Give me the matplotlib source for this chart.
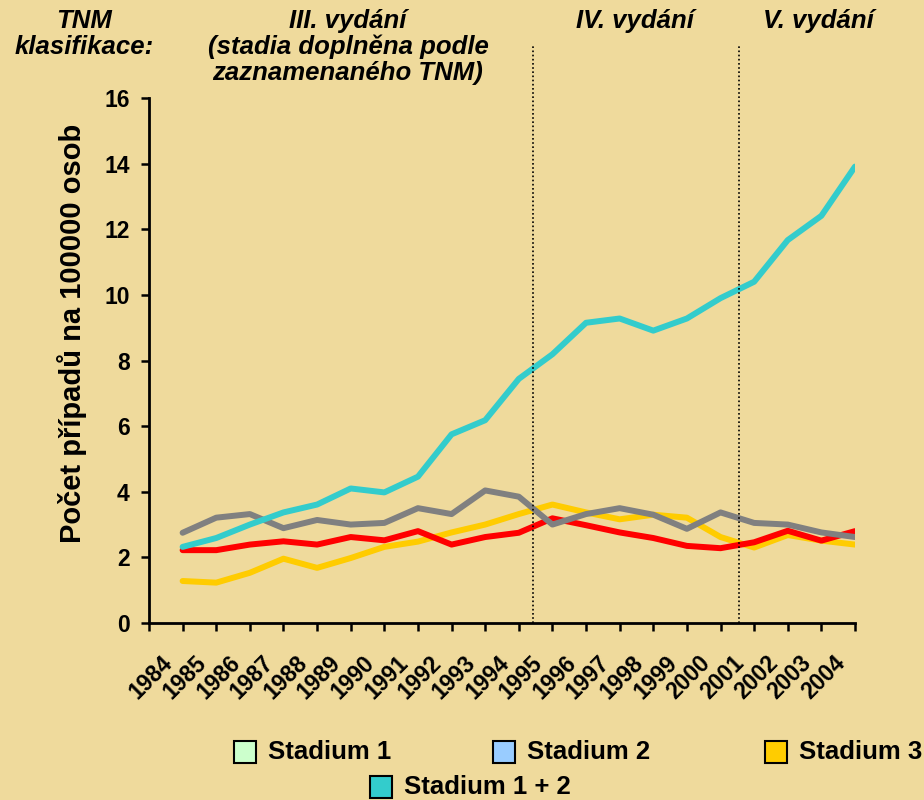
import numpy as np
import matplotlib.pyplot as plt
from matplotlib.patches import Rectangle

# DATA
years = list(range(1984, 2005))
stadium_12 = [2.32, 2.59, 3.00, 3.37, 3.61, 4.10, 3.98, 4.46, 5.75, 6.18, 7.44,
              8.19, 9.15, 9.28, 8.91, 9.28, 9.90, 10.40, 11.67, 12.41, 13.91]
stadium_3 = [1.28, 1.23, 1.53, 1.96, 1.68, 1.98, 2.32, 2.48, 2.76, 3.00, 3.32,
             3.61, 3.37, 3.16, 3.30, 3.21, 2.62, 2.30, 2.68, 2.51, 2.39]
series_grey = [2.75, 3.21, 3.32, 2.89, 3.14, 3.00, 3.05, 3.50, 3.32, 4.04, 3.85,
               3.00, 3.32, 3.50, 3.30, 2.87, 3.37, 3.05, 3.00, 2.76, 2.62]
series_red = [2.22, 2.22, 2.39, 2.49, 2.39, 2.62, 2.52, 2.80, 2.39, 2.62, 2.75,
              3.19, 2.98, 2.76, 2.59, 2.35, 2.28, 2.46, 2.81, 2.51, 2.80]
edition_breaks = [1994.42, 2000.55]
legend_names = ['Stadium 1', 'Stadium 2', 'Stadium 3', 'Stadium 1 + 2']
legend_colors = ['#CCFFCC', '#99CCFF', '#FFCC00', '#33CCCC']

BG = '#EFDA9C'
plt.rcParams['font.family'] = ['Liberation Sans', 'DejaVu Sans']
plt.rcParams['font.weight'] = 'bold'

fig = plt.figure(figsize=(9.24, 8), dpi=100, facecolor=BG)
ax = fig.add_axes([149 / 924, 1 - 623 / 800, (855 - 149) / 924, (623 - 98) / 800])
ax.set_facecolor(BG)

# LINES
ax.plot(years, stadium_3, color='#FFCC00', lw=4.3, solid_capstyle='round')
ax.plot(years, series_red, color='#FF0000', lw=4.3, solid_capstyle='round')
ax.plot(years, series_grey, color='#808080', lw=4.3, solid_capstyle='round')
ax.plot(years, stadium_12, color='#33CCCC', lw=4.3, solid_capstyle='round')

for xb in edition_breaks:
    ax.plot([xb, xb], [0, 17.6], color='black', lw=1.2, linestyle=(0, (1, 1.5)),
            clip_on=False)

# AXES
ax.set_xlim(1983, 2004)
ax.set_ylim(0, 16)
ax.set_yticks(np.arange(0, 17, 2))
ax.set_xticks(range(1983, 2005))
ax.set_xticklabels([])
ax.set_xticks([y - 0.4 for y in years], minor=True)
ax.tick_params(axis='x', which='minor', length=0, pad=26, labelsize=16.5)
ax.set_xticklabels([str(y) for y in years], minor=True, rotation=45,
                   ha='right', va='center', rotation_mode='anchor', fontsize=16.5)
ax.tick_params(axis='x', which='major', length=6, width=1.8, direction='out')
ax.tick_params(axis='y', length=6, width=1.8, direction='out', labelsize=16.5, pad=8)
for side in ['top', 'right']:
    ax.spines[side].set_visible(False)
for side in ['left', 'bottom']:
    ax.spines[side].set_linewidth(2)
fig.text(72 / 924, 1 - 333 / 800, 'Počet případů na 100000 osob', fontsize=21,
         fontweight='bold', rotation=90, ha='center', va='center')

# HEADER TEXT
hdr = dict(fontsize=18.5, fontweight='bold', style='italic', ha='center', va='top')
fig.text(84 / 924, 1 - 9 / 800, 'TNM\nklasifikace:', linespacing=1.08, **hdr)
fig.text(348 / 924, 1 - 9 / 800, 'III. vydání\n(stadia doplněna podle\nzaznamenaného TNM)',
         linespacing=1.08, **hdr)
fig.text(635 / 924, 1 - 9 / 800, 'IV. vydání', **hdr)
fig.text(818 / 924, 1 - 9 / 800, 'V. vydání', **hdr)

# LEGEND (drawn by hand to match layout)
box_pos = [(234, 741), (493, 741), (765, 741), (370, 776)]
for (bx, by), name, col in zip(box_pos, legend_names, legend_colors):
    fig.patches.append(Rectangle((bx / 924, 1 - (by + 22) / 800), 22 / 924, 22 / 800,
                                 transform=fig.transFigure, facecolor=col,
                                 edgecolor='black', lw=1.5))
    fig.text((bx + 34) / 924, 1 - (by + 11) / 800, name, fontsize=18.5,
             fontweight='bold', va='center', ha='left')

fig.savefig('out.png', dpi=100, facecolor=BG)
